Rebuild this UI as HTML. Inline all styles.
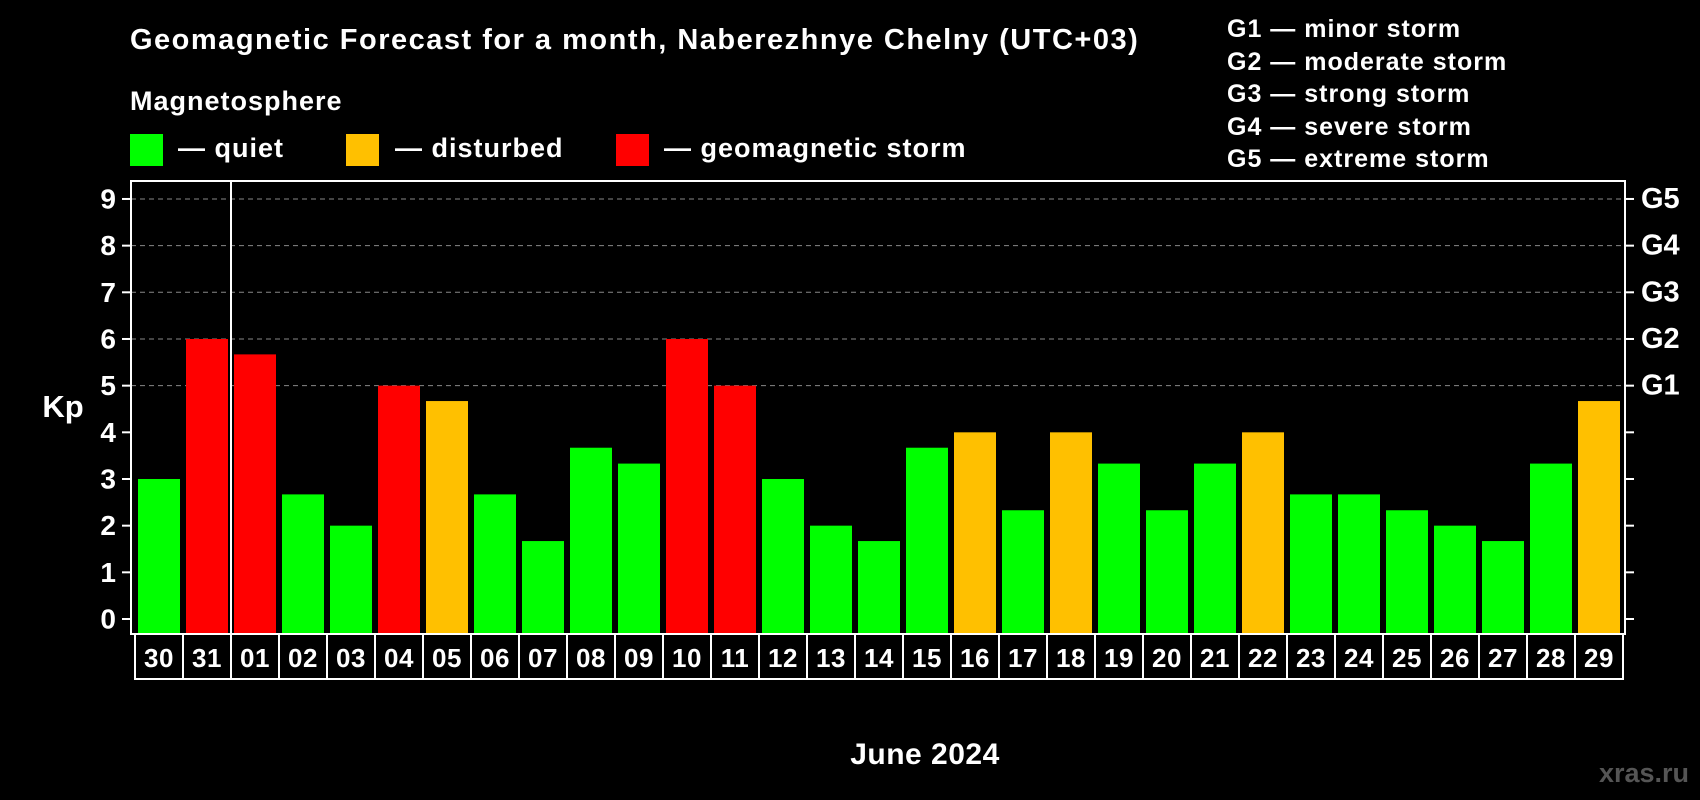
<!DOCTYPE html>
<html><head><meta charset="utf-8"><style>
html,body{margin:0;padding:0;background:#000;}
svg{display:block;font-family:"Liberation Sans",Arial,sans-serif;font-weight:bold;}
</style></head><body>
<svg id="c" width="1700" height="800" viewBox="0 0 1700 800">
<text x="130" y="49" fill="#fff" font-size="29" letter-spacing="1.5">Geomagnetic Forecast for a month, Naberezhnye Chelny (UTC+03)</text>
<text x="130" y="110" fill="#fff" font-size="27" letter-spacing="1">Magnetosphere</text>
<rect x="130" y="134" width="33" height="32" fill="#00ff00"/>
<text x="178" y="157" fill="#fff" font-size="27" letter-spacing="1">— quiet</text>
<rect x="346" y="134" width="33" height="32" fill="#ffc000"/>
<text x="395" y="157" fill="#fff" font-size="27" letter-spacing="1">— disturbed</text>
<rect x="616" y="134" width="33" height="32" fill="#ff0000"/>
<text x="664" y="157" fill="#fff" font-size="27" letter-spacing="1">— geomagnetic storm</text>
<g fill="#fff" font-size="25" letter-spacing="1">
<text x="1227" y="37">G1 — minor storm</text>
<text x="1227" y="70">G2 — moderate storm</text>
<text x="1227" y="102">G3 — strong storm</text>
<text x="1227" y="135">G4 — severe storm</text>
<text x="1227" y="167">G5 — extreme storm</text>
</g>
<text x="63" y="409" fill="#fff" font-size="31" text-anchor="middle" dominant-baseline="middle">Kp</text>
<text x="925" y="764" fill="#fff" font-size="30" letter-spacing="0.5" text-anchor="middle">June 2024</text>
<text x="1689" y="782" fill="#555" font-size="27" text-anchor="end">xras.ru</text>
<g id="grid"></g><g id="bars"></g><g id="axes"></g>
</svg>
<script>
const days=["30","31","01","02","03","04","05","06","07","08","09","10","11","12","13","14","15","16","17","18","19","20","21","22","23","24","25","26","27","28","29"];
const kp=[3,6,5.67,2.67,2,5,4.67,2.67,1.67,3.67,3.33,6,5,3,2,1.67,3.67,4,2.33,4,3.33,2.33,3.33,4,2.67,2.67,2.33,2,1.67,3.33,4.67];
const yTicks=["0","1","2","3","4","5","6","7","8","9"];
const gLabels=["G1","G2","G3","G4","G5"];
const NS="http://www.w3.org/2000/svg";
const L=131,R=1625,T=181,B=634,Y0=619,UNIT=46.67,X0=138,PITCH=48,BW=42;
const y=v=>Y0-v*UNIT;
const x=i=>X0+i*PITCH;
function mk(tag,attrs,parent){const e=document.createElementNS(NS,tag);for(const k in attrs)e.setAttribute(k,attrs[k]);parent.appendChild(e);return e;}
const grid=document.getElementById('grid'),bars=document.getElementById('bars'),axes=document.getElementById('axes');
yTicks.forEach((t,i)=>{
 const v=+t;
 if(v>=5){const g=mk('line',{x1:L,x2:R,y1:y(v),y2:y(v),stroke:'#888','stroke-dasharray':'5,4','stroke-width':1},grid);
 
 }
 const tl=mk('line',{x1:L-9,x2:L,y1:y(v),y2:y(v),stroke:'#fff','stroke-width':2},axes);
 
 
 const tr=mk('line',{x1:R,x2:R+9,y1:y(v),y2:y(v),stroke:'#fff','stroke-width':2},axes);
 
 
 const lb=mk('text',{x:116,y:y(v),fill:'#fff','font-size':28,'text-anchor':'end','dominant-baseline':'central'},axes);
 lb.textContent=t;
 
 
});
gLabels.forEach((g,i)=>{
 const lb=mk('text',{x:1641,y:y(5+i),fill:'#fff','font-size':29,'dominant-baseline':'central'},axes);
 lb.textContent=g;
 
 
});
kp.forEach((v,i)=>{
 const col=v>=5?'#ff0000':(v>=4?'#ffc000':'#00ff00');
 const r=mk('rect',{x:x(i),y:y(v),width:BW,height:B-y(v),fill:col},bars);
 
 
});
const fr=mk('rect',{x:L,y:T,width:R-L,height:B-T,fill:'none',stroke:'#fff','stroke-width':2},axes);


const dv=mk('line',{x1:231,x2:231,y1:T,y2:679,stroke:'#fff','stroke-width':2},axes);


const bx=mk('rect',{x:135,y:B,width:1623-135,height:679-B,fill:'none',stroke:'#fff','stroke-width':2},axes);


days.forEach((d,i)=>{
 if(i>0){const s=mk('line',{x1:x(i)-3,x2:x(i)-3,y1:B,y2:679,stroke:'#fff','stroke-width':2},axes);
 
 }
 const t=mk('text',{x:x(i)+BW/2,y:658,fill:'#fff','font-size':26,'letter-spacing':'0.5','text-anchor':'middle','dominant-baseline':'central'},axes);
 t.textContent=d;
 
 
});
</script>
</body></html>
